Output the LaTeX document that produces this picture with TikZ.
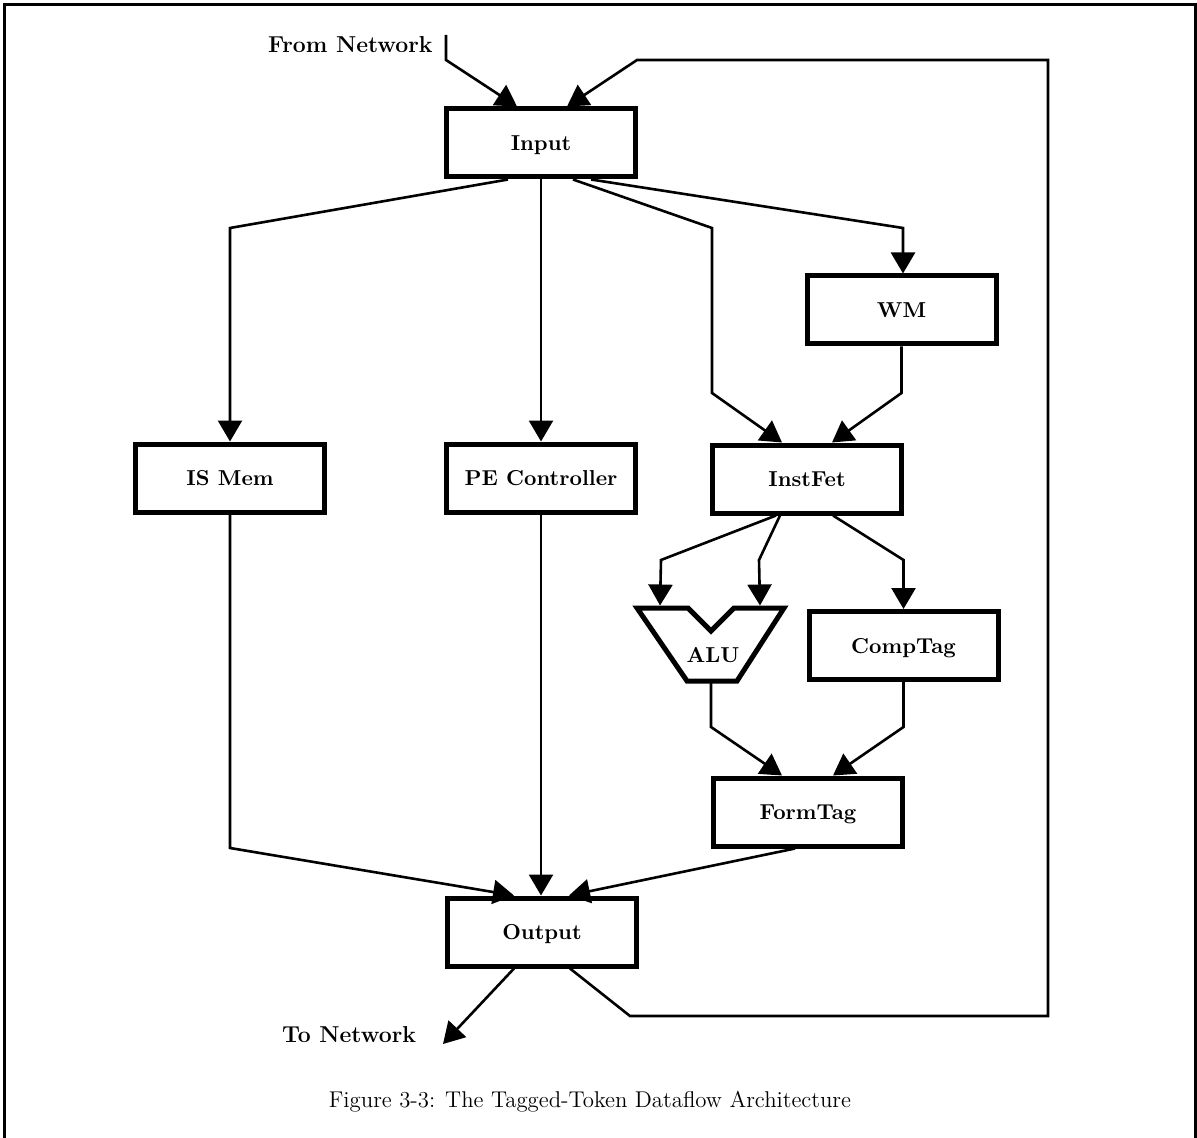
\documentclass[tikz,border=0pt]{standalone}
\usetikzlibrary{arrows.meta,calc}
\begin{document}
\begin{tikzpicture}[x=0.5pt,y=-0.5pt,
  unit/.style={draw, line width=2.5pt, minimum width=94.5pt, minimum height=34pt,
    inner sep=0pt, text height=2ex, text depth=0.2ex,
    font=\fontsize{10.8}{12}\selectfont\bfseries},
  lbl/.style={inner sep=0pt, font=\fontsize{10.8}{12}\selectfont\bfseries},
  port/.style={inner sep=0pt, font=\fontsize{11.5}{13}\selectfont\bfseries},
  flow/.style={line width=1.3pt, line join=miter,
    -{Triangle[length=10.5pt,width=12pt]}}]
\useasboundingbox (0,0) rectangle (1197,1138);

% page frame (open at the bottom)
\draw[line width=1.6pt] (4.5,1138) -- (4.5,4.5) -- (1195.5,4.5) -- (1195.5,1138);

% functional units
\node[unit] (in)  at (541,143)   {Input};
\node[unit] (wm)  at (901.5,310) {WM};
\node[unit] (is)  at (230,478)   {IS Mem};
\node[unit] (pe)  at (541,478)   {PE Controller};
\node[unit] (if)  at (807,479)   {InstFet};
\node[unit] (ct)  at (903.5,645.5) {CompTag};
\node[unit] (ft)  at (808,812)   {FormTag};
\node[unit] (out) at (542,932)   {Output};

% ALU: notched trapezoid with two operand ports
\draw[line width=2.5pt, line join=miter]
  (637,608) -- (688,608) -- (711,631) -- (734,608) -- (784,608)
  -- (737,681) -- (687,681) -- cycle;
\node[lbl] (alu) at (713,655) {ALU};
\coordinate (alul) at (660,605.5);
\coordinate (alur) at (760,605.5);
\coordinate (alub) at (711,682);

% network ports
\node[port, anchor=east] (fromnet) at (433,45) {From Network};
\node[port] (tonet) at (349,1035) {To Network};
\coordinate (fnin) at (446,35);
\coordinate (tnout) at (443,1044);

% caption
\node[font=\fontsize{11.4}{13}\selectfont] (cap) at (590,1102)
  {Figure 3-3: The Tagged-Token Dataflow Architecture};

% tokens arriving at Input
\draw[flow] (fnin) -- (446,60) -- ($(in.north)+(-24,0)$);
\draw[flow] ($(out.south)+(28,0)$) -- (630,1016) -- (1048,1016) -- (1048,60)
  -- (637,60) -- ($(in.north)+(26,0)$);

% Input fan-out
\draw[flow] ($(in.south)+(-33,0)$) -- (230,228) -- (is.north);
\draw[flow] (in.south) -- (pe.north);
\draw[flow] ($(in.south)+(32,0)$) -- (712,228) -- (712,393) -- ($(if.north)+(-25,0)$);
\draw[flow] ($(in.south)+(50,0)$) -- (903,228) -- (903,273.5);

% WM to InstFet
\draw[flow] (wm.south) -- (901.5,393) -- ($(if.north)+(25,0)$);

% InstFet to ALU and CompTag
\draw[flow] ($(if.south)+(-31,0)$) -- (661,560) -- (alul);
\draw[flow] ($(if.south)+(-27,0)$) -- (759,560) -- (alur);
\draw[flow] ($(if.south)+(26,0)$) -- (903.5,560) -- (ct.north);

% ALU and CompTag to FormTag
\draw[flow] (alub) -- (711,727) -- ($(ft.north)+(-26,0)$);
\draw[flow] (ct.south) -- (903.5,727) -- ($(ft.north)+(25,0)$);

% into Output
\draw[flow] (is.south) -- (230,848) -- ($(out.north)+(-28,0)$);
\draw[flow] (pe.south) -- (pe.south |- out.north);
\draw[flow] ($(ft.south)+(-13,0)$) -- ($(out.north)+(27,0)$);

% Output to network
\draw[flow] ($(out.south)+(-28,0)$) -- (tnout);
\end{tikzpicture}
\end{document}
